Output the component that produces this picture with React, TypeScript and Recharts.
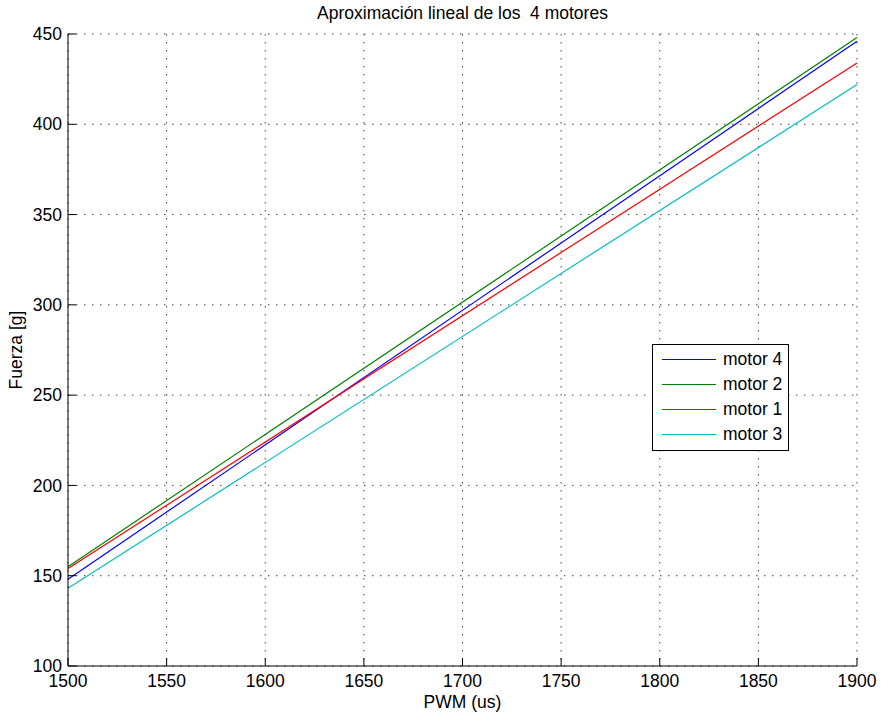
import { LineChart, Line, XAxis, YAxis, CartesianGrid } from 'recharts';

// PWM endpoints of the linear fits
const pwm = [1500, 1900];
const motor4 = [148, 446];
const motor2 = [155, 448];
const motor1 = [154, 434];
const motor3 = [143, 422];

const xTicks = [1500, 1550, 1600, 1650, 1700, 1750, 1800, 1850, 1900];
const yTicks = [100, 150, 200, 250, 300, 350, 400, 450];

const series = [
  { key: 'motor4', label: 'motor 4', color: '#0000ff' },
  { key: 'motor2', label: 'motor 2', color: '#008000' },
  { key: 'motor1', label: 'motor 1', color: '#ff0000' },
  { key: 'motor3', label: 'motor 3', color: '#00bfbf' },
];

const data = pwm.map((p, i) => ({
  pwm: p,
  motor4: motor4[i],
  motor2: motor2[i],
  motor1: motor1[i],
  motor3: motor3[i],
}));

const font = '"Liberation Sans", Arial, sans-serif';
const fs = 17.5;
const tickStyle = { fill: '#000', fontSize: fs, fontFamily: font };

function LegendBox() {
  return (
    <div
      style={{
        position: 'absolute',
        left: 652,
        top: 344,
        width: 137,
        height: 107,
        border: '1px solid #000',
        background: '#fff',
        fontFamily: font,
        fontSize: fs,
        color: '#000',
        boxSizing: 'border-box',
        paddingTop: 2,
      }}
    >
      {series.map((s) => (
        <div key={s.key} style={{ display: 'flex', alignItems: 'center', height: 25 }}>
          <span style={{ display: 'inline-block', width: 54, height: 1, background: s.color, marginLeft: 9, marginRight: 7 }} />
          <span>{s.label}</span>
        </div>
      ))}
    </div>
  );
}

export default function App() {
  return (
    <div style={{ position: 'absolute', left: 0, top: 0, width: 881, height: 716, background: '#fff' }}>
      <div style={{ position: 'absolute', left: 0, width: 925, top: 3, textAlign: 'center', fontFamily: font, fontSize: fs }}>
        Aproximación lineal de los&nbsp; 4 motores
      </div>
      <LineChart width={881} height={716} data={data} margin={{ top: 34, right: 24, bottom: 0, left: 0 }}>
        <CartesianGrid stroke="#444" strokeDasharray="1.5 6.5" xAxisId="bottom" yAxisId="left" />
        <XAxis
          xAxisId="bottom"
          dataKey="pwm"
          type="number"
          domain={[1500, 1900]}
          ticks={xTicks}
          height={50}
          tickSize={-8}
          tickMargin={17}
          tick={tickStyle}
          axisLine={{ stroke: '#000' }}
          tickLine={{ stroke: '#000' }}
        />
        <XAxis
          xAxisId="top"
          orientation="top"
          dataKey="pwm"
          type="number"
          domain={[1500, 1900]}
          ticks={xTicks}
          height={0}
          tickSize={-8}
          tick={false}
          axisLine={{ stroke: '#000' }}
          tickLine={{ stroke: '#000' }}
        />
        <YAxis
          yAxisId="left"
          type="number"
          domain={[100, 450]}
          ticks={yTicks}
          width={68}
          tickSize={-8}
          tickMargin={14}
          tick={tickStyle}
          axisLine={{ stroke: '#000' }}
          tickLine={{ stroke: '#000' }}
        />
        <YAxis
          yAxisId="right"
          orientation="right"
          type="number"
          domain={[100, 450]}
          ticks={yTicks}
          width={0}
          tickSize={-8}
          tick={false}
          axisLine={{ stroke: '#000' }}
          tickLine={{ stroke: '#000' }}
        />
        {series.map((s) => (
          <Line
            key={s.key}
            xAxisId="bottom"
            yAxisId="left"
            dataKey={s.key}
            name={s.label}
            stroke={s.color}
            strokeWidth={1.2}
            dot={false}
            type="linear"
            isAnimationActive={false}
          />
        ))}
      </LineChart>
      <LegendBox />
      <div
        style={{
          position: 'absolute',
          left: 0,
          width: 925,
          top: 693,
          lineHeight: '18px',
          textAlign: 'center',
          fontFamily: font,
          fontSize: fs,
        }}
      >
        PWM (us)
      </div>
      <div
        style={{
          position: 'absolute',
          left: 16,
          top: 350,
          transform: 'translate(-50%, -50%) rotate(-90deg)',
          fontFamily: font,
          fontSize: fs,
          whiteSpace: 'nowrap',
        }}
      >
        Fuerza [g]
      </div>
    </div>
  );
}
